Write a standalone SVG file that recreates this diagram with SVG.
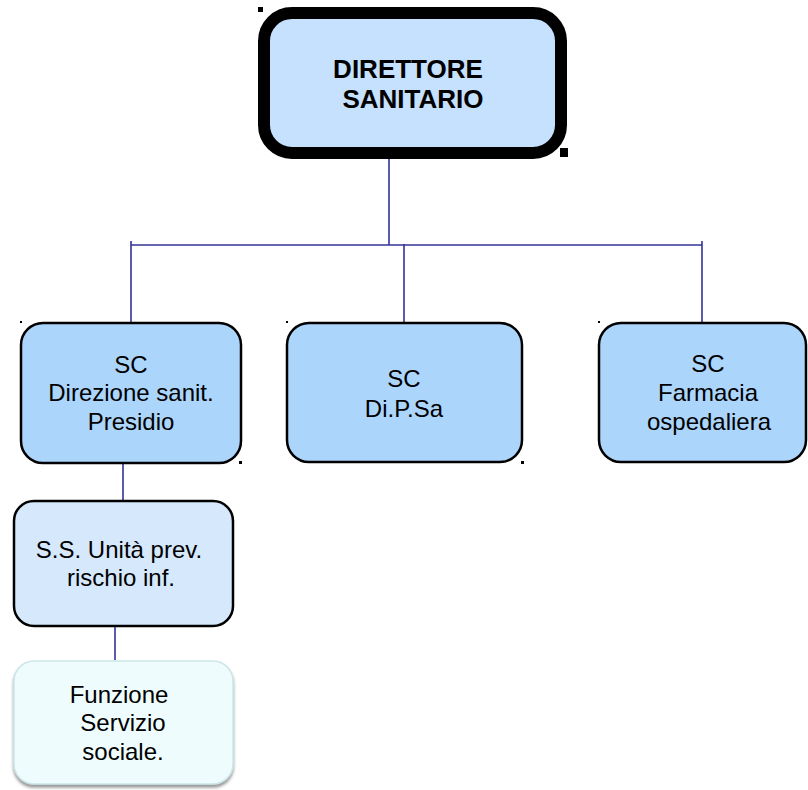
<svg xmlns="http://www.w3.org/2000/svg" width="808" height="790" viewBox="0 0 808 790">
<style>
.conn{stroke:#333399;stroke-width:1.6;fill:none}
.sc{fill:#acd5fc;stroke:#000;stroke-width:2.5}
.t{font-family:"Liberation Sans",Arial,sans-serif;font-size:24px;fill:#000;text-anchor:middle}
.tb{font-family:"Liberation Sans",Arial,sans-serif;font-size:26px;font-weight:bold;fill:#000;text-anchor:middle}
.dot{fill:#000}
</style>
<defs>
<filter id="sh" x="-10%" y="-10%" width="120%" height="130%">
<feDropShadow dx="0" dy="3" stdDeviation="1.5" flood-color="#808080" flood-opacity="0.8"/>
</filter>
</defs>
<g id="connectors">
<line class="conn" x1="389" y1="158" x2="389" y2="245"/>
<line class="conn" x1="131" y1="245" x2="702" y2="245"/>
<line class="conn" x1="131" y1="241" x2="131" y2="322"/>
<line class="conn" x1="404" y1="244" x2="404" y2="323"/>
<line class="conn" x1="702" y1="241" x2="702" y2="323"/>
<line class="conn" x1="123" y1="463" x2="123" y2="500"/>
<line class="conn" x1="115" y1="626" x2="115" y2="660"/>
</g>
<g id="direttore">
<rect x="264" y="13" width="297" height="140" rx="28" fill="#c5e1fd" stroke="#000" stroke-width="12"/>
<rect class="dot" x="258" y="7" width="5" height="5"/>
<rect class="dot" x="560" y="148" width="8" height="9"/>
<text class="tb" x="408" y="78">DIRETTORE</text>
<text class="tb" x="413" y="108">SANITARIO</text>
</g>
<g id="direzione">
<rect class="sc" x="21" y="323" width="220" height="140" rx="22"/>
<rect class="dot" x="20" y="321" width="2" height="2"/>
<rect class="dot" x="239" y="461" width="3" height="3"/>
<text class="t" x="131" y="373">SC</text>
<text class="t" x="131" y="401">Direzione sanit.</text>
<text class="t" x="131" y="430">Presidio</text>
</g>
<g id="dipsa">
<rect class="sc" x="287" y="323" width="235" height="139" rx="22"/>
<rect class="dot" x="286" y="321" width="2" height="2"/>
<rect class="dot" x="521" y="461" width="3" height="3"/>
<text class="t" x="404" y="387">SC</text>
<text class="t" x="404" y="417">Di.P.Sa</text>
</g>
<g id="farmacia">
<rect class="sc" x="599" y="323" width="207" height="139" rx="22"/>
<rect class="dot" x="598" y="321" width="2" height="2"/>
<text class="t" x="708" y="372">SC</text>
<text class="t" x="708" y="401">Farmacia</text>
<text class="t" x="709" y="430">ospedaliera</text>
</g>
<g id="ss">
<rect x="14" y="501" width="219" height="125" rx="20" fill="#d5e8fc" stroke="#000" stroke-width="2.5"/>
<text class="t" x="119" y="558">S.S. Unità prev.</text>
<text class="t" x="121" y="586">rischio inf.</text>
</g>
<g id="funzione">
<rect x="14" y="661" width="219" height="123" rx="20" fill="#eefcfe" stroke="#cce6e8" stroke-width="1.5" filter="url(#sh)"/>
<text class="t" x="119" y="703">Funzione</text>
<text class="t" x="123" y="731">Servizio</text>
<text class="t" x="123" y="760">sociale.</text>
</g>
</svg>
